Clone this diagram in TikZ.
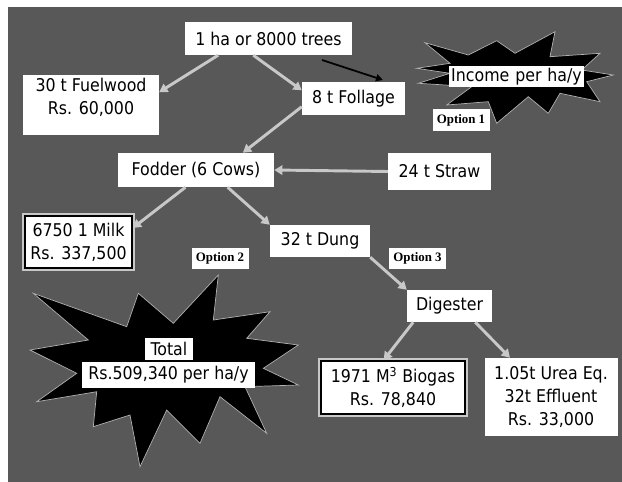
\documentclass[tikz,border=0pt]{standalone}
\usepackage{fontspec}
\setmainfont{DejaVu Sans Condensed}
\newfontfamily\optfont{Liberation Serif}
\usepackage{tikz}
\usetikzlibrary{arrows.meta}

\definecolor{bggray}{RGB}{88,88,88}
\definecolor{flowgray}{RGB}{200,200,200}

\begin{document}
\begin{tikzpicture}[x=0.03cm,y=-0.03cm,
  box/.style={fill=white,inner sep=1pt,align=center,font=\fontsize{15}{19.5}\selectfont},
  framed/.style={box,draw=black,line width=1.4pt,preaction={draw=flowgray,line width=5pt}},
  optlabel/.style={fill=white,inner sep=1pt,minimum width=1.71cm,minimum height=0.63cm,font=\optfont\bfseries\fontsize{11}{13}\selectfont},
  flow/.style={draw=flowgray,line width=2.5pt,-{Triangle[length=7pt,width=8pt]}},
  pointer/.style={draw=black,line width=1.5pt,-{Triangle[length=6pt,width=6pt]}},
  burst/.style={fill=black,draw=gray!60,line width=0.6pt}]
  % Background
  \useasboundingbox (0,0) rectangle (622,482);
  \fill[bggray] (8,7) rectangle (622,482);
  % Bursts
  \draw[burst] (425,42.7) -- (468.3,55) -- (496.7,40.7) -- (515,53.3) -- (555,31.7)
    -- (550,56.7) -- (600,53.3) -- (581.7,70) -- (613.3,75) -- (586.7,81.7)
    -- (600,101.7) -- (560,93.3) -- (548.3,113.3) -- (528.3,96.7) -- (496.7,123.3)
    -- (488.3,101.7) -- (446.7,105) -- (471.7,86.7) -- (418.3,83.3) -- (450,73.3)
    -- (416.7,68.3) -- (450,63.3) -- cycle;
  \draw[burst] (33.3,293.3) -- (88.3,340) -- (30,350) -- (76.7,373.3) -- (36.7,401.7)
    -- (96.7,391.7) -- (93.3,426.7) -- (130,415) -- (140,466.7) -- (166.7,410)
    -- (200,443.3) -- (220,396.7) -- (266.7,433.3) -- (245,386.7) -- (298.3,385)
    -- (263.3,368.3) -- (298.3,345) -- (246.7,338.3) -- (270,311.7) -- (213.3,320)
    -- (218.3,275) -- (173.3,323.3) -- (138.3,293.3) -- (126.7,326.7) -- cycle;
  % Nodes
  \node[box,minimum width=5.01cm,minimum height=0.99cm] (trees) at (268.5,38.5) {1 ha or 8000 trees};
  \node[box,minimum width=4.08cm,minimum height=1.8cm] (fuel) at (91,105) {30 t Fuelwood\\Rs. 60,000\\[-4pt]};
  \node[box,minimum width=3.09cm,minimum height=0.99cm] (foliage) at (353.5,98.5) {8 t Follage};
  \node[box,inner sep=1.5pt] (income) at (516.5,76.5) {Income\,\,per\,\,ha/y};
  \node[optlabel] (opt1) at (461,120) {Option 1};
  \node[box,minimum width=4.68cm,minimum height=1.02cm] (fodder) at (196,170) {Fodder (6 Cows)};
  \node[box,minimum width=3.09cm,minimum height=1.11cm] (straw) at (439.5,171.5) {24 t Straw};
  \node[framed,minimum width=3.21cm,minimum height=1.56cm] (milk) at (78.5,242) {6750 1 Milk\\Rs. 337,500};
  \node[box,minimum width=3cm,minimum height=0.96cm] (dung) at (320,241) {32 t Dung};
  \node[optlabel] (opt2) at (220,258.5) {Option 2};
  \node[optlabel] (opt3) at (417.5,258.5) {Option 3};
  \node[box,minimum width=2.55cm,minimum height=0.96cm] (digester) at (449.5,306) {Digester};
  \node[box,minimum width=1.44cm,minimum height=0.66cm] (total) at (169,349) {Total};
  \node[box,minimum width=5.19cm,minimum height=0.78cm] (sum) at (168.5,375) {Rs.509,340 per ha/y};
  \node[framed,minimum width=4.32cm,minimum height=1.59cm] (biogas) at (393,387.5) {1971 M\textsuperscript{3} Biogas\\Rs. 78,840};
  \node[box,minimum width=3.99cm,minimum height=2.34cm] (urea) at (551,397) {1.05t Urea Eq.\\32t Effluent\\Rs. 33,000};
  % Connectors
  \draw[flow] ([xshift=-43pt]trees.south) -- ([yshift=11pt]fuel.east);
  \draw[flow] ([xshift=-13pt]trees.south) -- ([yshift=7pt]foliage.west);
  \draw[flow] ([yshift=-7pt]foliage.west) -- ([xshift=40pt]fodder.north);
  \draw[flow] (straw.west) -- (fodder.east);
  \draw[flow] ([xshift=-9pt]fodder.south) -- ([yshift=12pt]milk.east);
  \draw[flow] ([xshift=27pt]fodder.south) -- (dung.north west);
  \draw[flow] (dung.south east) -- (digester.north west);
  \draw[flow] ([xshift=-31pt]digester.south) -- ([xshift=-8pt]biogas.north);
  \draw[flow] ([xshift=22pt]digester.south) -- ([xshift=-35pt]urea.north);
  % Black pointer
  \coordinate (p1) at (322,60);
  \coordinate (p2) at (383,80);
  \draw[pointer] (p1) -- (p2);
\end{tikzpicture}
\end{document}
